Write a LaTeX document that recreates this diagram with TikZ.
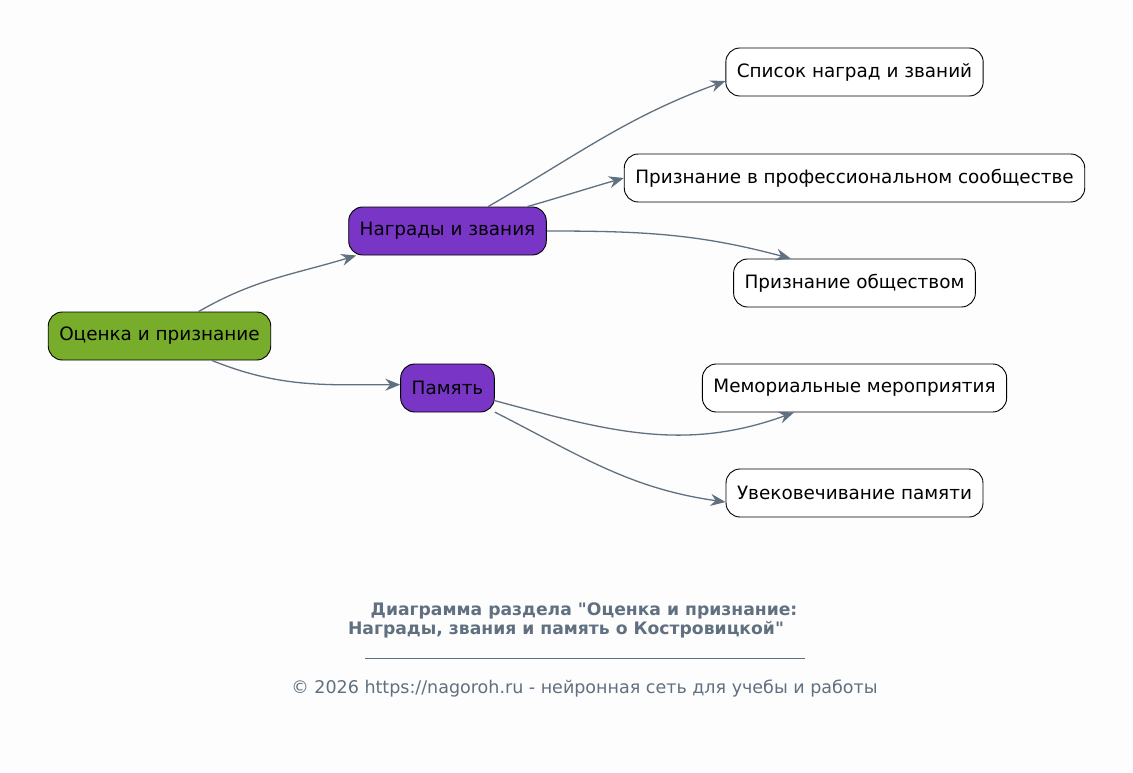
\documentclass[tikz,border=0pt]{standalone}
\usepackage{fontspec}
\setmainfont{DejaVu Sans}
\newfontfamily\rawfont{DejaVu Sans}
\usepackage{xcolor}
\usepackage{tikz}
\usetikzlibrary{arrows.meta}

\definecolor{rootgreen}{RGB}{120,172,43}
\definecolor{topicpurple}{RGB}{120,53,198}
\definecolor{edgegray}{RGB}{96,112,128}
\definecolor{pagebg}{RGB}{253,253,253}
\newcommand{\dq}{{\rawfont\char34}}

\begin{document}
\begin{tikzpicture}[
        x=1pt, y=-1pt,
        box/.style = {draw, rectangle, rounded corners=14pt, line width=0.9pt,
            minimum height=48pt, inner xsep=11pt,
            font=\fontsize{18.4}{22}\selectfont},
        rootbox/.style = {box, fill=rootgreen},
        topicbox/.style = {box, fill=topicpurple},
        leafbox/.style = {box, fill=white},
        arrow/.style = {-{Stealth[length=15pt, width=12pt, inset=5pt]},
            draw=edgegray, line width=1.3pt},
        caption/.style = {text=edgegray, font=\fontsize{17.5}{20}\selectfont},
        titletext/.style = {caption, font=\bfseries\fontsize{17.2}{20}\selectfont}
    ]

    % page
    \fill[pagebg] (0,0) rectangle (1133,773);
    \useasboundingbox (0,0) rectangle (1133,773);

    % Root on the left
    \node[rootbox] (root) at (159.5,336) {Оценка и признание};

    % Two topics in the middle
    \node[topicbox] (awards) at (447.5,231) {Награды и звания};
    \node[topicbox] (memory) at (447.5,388) {Память};

    % Leaves on the right
    \node[leafbox] (list) at (854.5,72) {Список наград и званий};
    \node[leafbox] (profrec) at (854.5,178) {Признание в профессиональном сообществе};
    \node[leafbox] (pubrec) at (854.5,283) {Признание обществом};
    \node[leafbox] (memevents) at (854.5,388) {Мемориальные мероприятия};
    \node[leafbox] (perpet) at (854.5,493) {Увековечивание памяти};

    % Draw arrows
    \draw[arrow] (root.32) to[out=30, in=197] (awards.195);
    \draw[arrow] (root.-25) to[out=-22, in=180] (memory.176);
    \draw[arrow] (awards.31) to[out=30, in=200] (list.184);
    \draw[arrow] (awards.17) to[out=16, in=196] (profrec.west);
    \draw[arrow] (awards.east) to[out=0, in=165] (pubrec.159);
    \draw[arrow] (memory.-15) to[out=-15, in=200] (memevents.202);
    \draw[arrow] (memory.-27) to[out=-27, in=172] (perpet.184);

    % Caption below
    \node[titletext] (title1) at (584,611)
        {Диаграмма раздела \dq Оценка и признание:};
    \node[titletext] (title2) at (566,630)
        {Награды, звания и память о Костровицкой\dq};
    \draw[edgegray, line width=0.8pt] (365,658) -- (805,658);
    \node[caption] (footer) at (584.5,689)
        {© 2026 https://nagoroh.ru - нейронная сеть для учебы и работы};

\end{tikzpicture}
\end{document}
